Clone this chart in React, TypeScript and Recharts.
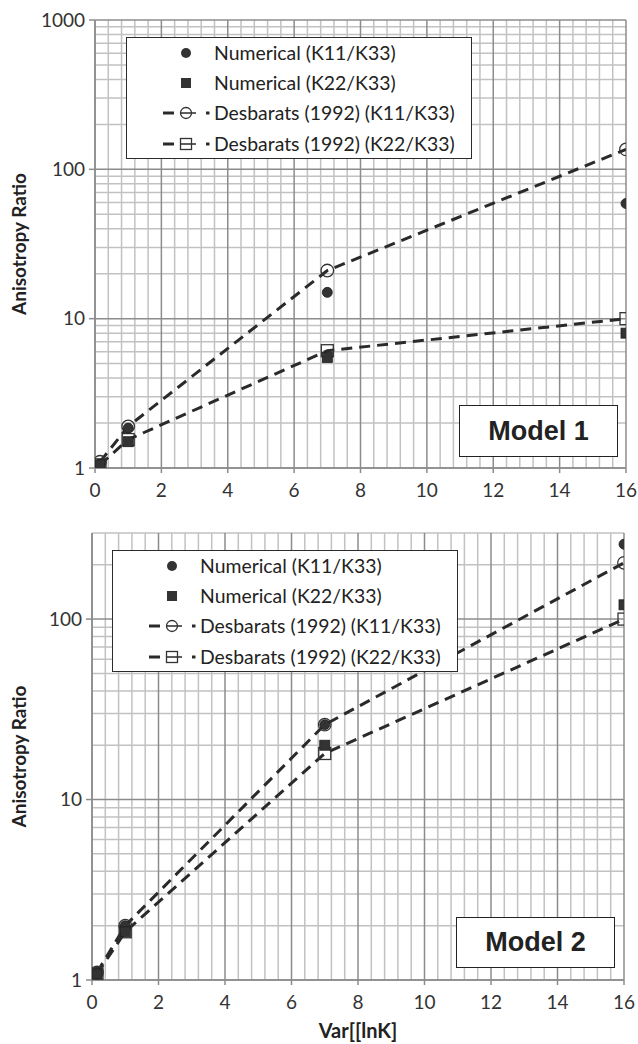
import React from 'react';
import { LineChart, Line, XAxis, YAxis, ReferenceLine, Legend } from 'recharts';

// ---------- data ----------
const varLnK = [0.15, 1, 7, 16];
const xTicks = [0, 2, 4, 6, 8, 10, 12, 14, 16];
const m1YTicks = [1, 10, 100, 1000];
const m2YTicks = [1, 10, 100];

const m1NumK11 = [1.06, 1.85, 15, 59];
const m1NumK22 = [1.05, 1.5, 5.5, 8];
const m1DesK11 = [1.1, 1.9, 21, 136];
const m1DesK22 = [1.05, 1.55, 6.1, 10];

const m2NumK11 = [1.1, 2.0, 26, 260];
const m2NumK22 = [1.08, 1.85, 20, 120];
const m2DesK11 = [1.1, 2.0, 26, 205];
const m2DesK22 = [1.08, 1.85, 18, 100];

const seriesNames = [
  'Numerical (K11/K33)',
  'Numerical (K22/K33)',
  'Desbarats (1992) (K11/K33)',
  'Desbarats (1992) (K22/K33)',
];

const buildData = (a: number[], b: number[], c: number[], d: number[]) =>
  varLnK.map((x, i) => ({ x, numK11: a[i], numK22: b[i], desK11: c[i], desK22: d[i] }));

const model1Data = buildData(m1NumK11, m1NumK22, m1DesK11, m1DesK22);
const model2Data = buildData(m2NumK11, m2NumK22, m2DesK11, m2DesK22);

// ---------- grid values ----------
const minorX: number[] = [];
for (let i = 0; i <= 40; i++) {
  const v = Math.round(i * 4) / 10;
  if (Math.abs(v / 2 - Math.round(v / 2)) > 1e-6) minorX.push(v);
}
const minorY = (max: number) => {
  const out: number[] = [];
  [1, 10, 100].forEach((dec) => {
    for (let k = 2; k <= 9; k++) if (k * dec <= max) out.push(k * dec);
  });
  return out;
};

const FONT = 'Lato, "Open Sans", sans-serif';
const MINOR = '#c2c2c2';
const MAJOR = '#8c8c8c';
const DARK = '#2a2a2a';

// ---------- markers ----------
const filledCircle = (p: any) =>
  p.cx == null ? null : (
    <circle key={`fc-${p.index}`} cx={p.cx} cy={p.cy} r={5} fill="#333" stroke="#1e1e1e" strokeWidth={0.8} />
  );
const filledSquare = (p: any) =>
  p.cx == null ? null : (
    <rect key={`fs-${p.index}`} x={p.cx - 5} y={p.cy - 5} width={10} height={10} fill="#333" stroke="#1e1e1e" strokeWidth={0.8} />
  );
const hollowCircle = (p: any) =>
  p.cx == null ? null : (
    <circle key={`hc-${p.index}`} cx={p.cx} cy={p.cy} r={6.3} fill="none" stroke="#333" strokeWidth={1.3} />
  );
const hollowSquare = (p: any) =>
  p.cx == null ? null : (
    <rect key={`hs-${p.index}`} x={p.cx - 6} y={p.cy - 6} width={12} height={12} fill="none" stroke="#333" strokeWidth={1.3} />
  );

// ---------- legend ----------
const legendIcon = (i: number) => {
  const cy = 15;
  const cx = 26;
  if (i === 0) return <circle cx={cx} cy={cy} r={5} fill="#333" />;
  if (i === 1) return <rect x={cx - 5} y={cy - 5} width={10} height={10} fill="#333" />;
  return (
    <g>
      <line x1={3} y1={cy} x2={14} y2={cy} stroke={DARK} strokeWidth={3} />
      <line x1={20} y1={cy} x2={36} y2={cy} stroke={DARK} strokeWidth={1.5} />
      {i === 2 ? (
        <circle cx={cx} cy={cy} r={5.5} fill="none" stroke="#333" strokeWidth={1.3} />
      ) : (
        <rect x={cx - 5.5} y={cy - 5.5} width={11} height={11} fill="none" stroke="#333" strokeWidth={1.3} />
      )}
      <line x1={46} y1={cy} x2={49.5} y2={cy} stroke={DARK} strokeWidth={3} />
    </g>
  );
};

const LegendBox = () => (
  <div
    style={{
      width: 346,
      height: 122,
      boxSizing: 'border-box',
      border: '1.3px solid #2b2b2b',
      background: '#fff',
      fontFamily: FONT,
      fontSize: 19.4,
      color: '#222',
    }}
  >
    {seriesNames.map((n, i) => (
      <div key={n} style={{ position: 'relative', height: 30.2 }}>
        <svg style={{ position: 'absolute', left: 33, top: 0 }} width={52} height={30}>
          {legendIcon(i)}
        </svg>
        <span style={{ position: 'absolute', left: 87, top: 0, lineHeight: '30px', whiteSpace: 'nowrap' }}>{n}</span>
      </div>
    ))}
  </div>
);

// ---------- panel ----------
type PanelProps = {
  data: any[];
  yMax: number;
  yTicks: number[];
  yAxisWidth: number;
  height: number;
  margin: { top: number; right: number; bottom: number; left: number };
  legendPos: { left: number; top: number };
  modelLabel: string;
  modelBox: { left: number; top: number; width: number; height: number };
  xLabel?: string;
};

const Panel = ({ data, yMax, yTicks, yAxisWidth, height, margin, legendPos, modelLabel, modelBox, xLabel }: PanelProps) => {
  const minY = minorY(yMax);
  const majorY = yTicks;
  return (
    <div style={{ position: 'relative', width: 638, height }}>
      <LineChart width={638} height={height} data={data} margin={margin}>
        {minorX.map((v) => (
          <ReferenceLine key={`mx${v}`} x={v} stroke={MINOR} strokeWidth={1.5} />
        ))}
        {minY.map((v) => (
          <ReferenceLine key={`my${v}`} y={v} stroke={MINOR} strokeWidth={1.5} />
        ))}
        {xTicks.map((v) => (
          <ReferenceLine key={`Mx${v}`} x={v} stroke={MAJOR} strokeWidth={1.5} />
        ))}
        {majorY.map((v) => (
          <ReferenceLine key={`My${v}`} y={v} stroke={MAJOR} strokeWidth={1.5} />
        ))}
        <XAxis
          dataKey="x"
          type="number"
          domain={[0, 16]}
          ticks={xTicks}
          allowDataOverflow
          height={30}
          tickSize={5}
          tickMargin={11}
          axisLine={{ stroke: MAJOR, strokeWidth: 1.5 }}
          tickLine={{ stroke: MAJOR, strokeWidth: 1.5 }}
          tick={{ fill: '#333', fontSize: 19, fontFamily: FONT }}
          label={
            xLabel
              ? {
                  value: xLabel,
                  position: 'bottom',
                  offset: 14,
                  style: { fontWeight: 700, fontSize: 20, fill: '#222', fontFamily: FONT },
                }
              : undefined
          }
        />
        <YAxis
          type="number"
          scale="log"
          domain={[1, yMax]}
          ticks={yTicks}
          allowDataOverflow
          width={yAxisWidth}
          tickSize={6}
          tickMargin={4}
          axisLine={{ stroke: MAJOR, strokeWidth: 1.5 }}
          tickLine={{ stroke: MAJOR, strokeWidth: 1.5 }}
          tick={{ fill: '#333', fontSize: 19, fontFamily: FONT }}
          label={{
            content: (p: any) => {
              const vb = p.viewBox || { y: margin.top, height: height - margin.top - margin.bottom - 30 };
              const cy = vb.y + vb.height / 2;
              return (
                <text
                  x={18}
                  y={cy}
                  transform={`rotate(-90, 18, ${cy})`}
                  textAnchor="middle"
                  dominantBaseline="central"
                  style={{ fontWeight: 700, fontSize: 19, fill: '#222', fontFamily: FONT }}
                >
                  Anisotropy Ratio
                </text>
              );
            },
          }}
        />
        <Line
          dataKey="desK11"
          name={seriesNames[2]}
          type="linear"
          stroke={DARK}
          strokeWidth={3}
          strokeDasharray="11 7"
          dot={hollowCircle}
          activeDot={false}
          isAnimationActive={false}
        />
        <Line
          dataKey="desK22"
          name={seriesNames[3]}
          type="linear"
          stroke={DARK}
          strokeWidth={3}
          strokeDasharray="11 7"
          dot={hollowSquare}
          activeDot={false}
          isAnimationActive={false}
        />
        <Line
          dataKey="numK11"
          name={seriesNames[0]}
          stroke="none"
          dot={filledCircle}
          activeDot={false}
          isAnimationActive={false}
        />
        <Line
          dataKey="numK22"
          name={seriesNames[1]}
          stroke="none"
          dot={filledSquare}
          activeDot={false}
          isAnimationActive={false}
        />
        <Legend
          layout="vertical"
          align="center"
          verticalAlign="middle"
          content={() => <LegendBox />}
          wrapperStyle={{ left: legendPos.left, top: legendPos.top, width: 346, height: 122, bottom: 'auto', right: 'auto' }}
        />
      </LineChart>
      <div
        style={{
          position: 'absolute',
          left: modelBox.left,
          top: modelBox.top,
          width: modelBox.width,
          height: modelBox.height,
          boxSizing: 'border-box',
          border: '1.6px solid #222',
          background: '#fff',
          display: 'flex',
          alignItems: 'center',
          justifyContent: 'center',
          fontFamily: '"Liberation Sans", Arial, sans-serif',
          fontWeight: 700,
          fontSize: 27,
          color: '#222',
        }}
      >
        {modelLabel}
      </div>
    </div>
  );
};

export default function App() {
  return (
    <div style={{ position: 'absolute', left: 0, top: 0, width: 638, height: 1044, background: '#fff' }}>
      <Panel
        data={model1Data}
        yMax={1000}
        yTicks={m1YTicks}
        yAxisWidth={95}
        height={510}
        margin={{ top: 20, right: 12, bottom: 12, left: 0 }}
        legendPos={{ left: 126, top: 37 }}
        modelLabel="Model 1"
        modelBox={{ left: 459, top: 405, width: 159, height: 52 }}
      />
      <Panel
        data={model2Data}
        yMax={300}
        yTicks={m2YTicks}
        yAxisWidth={92}
        height={534}
        margin={{ top: 23, right: 14, bottom: 34, left: 0 }}
        legendPos={{ left: 112, top: 40 }}
        modelLabel="Model 2"
        modelBox={{ left: 456, top: 407, width: 159, height: 51 }}
        xLabel="Var[[lnK]"
      />
    </div>
  );
}
